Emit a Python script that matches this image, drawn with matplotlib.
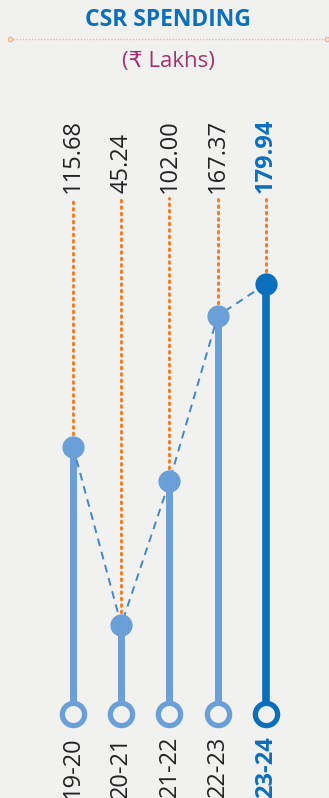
import matplotlib
matplotlib.use("Agg")
import matplotlib.pyplot as plt
from matplotlib.transforms import blended_transform_factory

years = ["19-20", "20-21", "21-22", "22-23", "23-24"]
values = [115.68, 45.24, 102.00, 167.37, 179.94]
value_labels = ["115.68", "45.24", "102.00", "167.37", "179.94"]
highlight = [False, False, False, False, True]

title = "CSR SPENDING"
subtitle = "(₹ Lakhs)"

BG = "#f1f1f0"
LIGHT = "#6a9fd8"
DARK = "#0b6fbe"
ORANGE = "#f07f2a"
PURPLE = "#a3336e"
TXT = "#222222"
FONT = ["Open Sans", "DejaVu Sans"]

W, H = 329, 798
fig = plt.figure(figsize=(W / 100, H / 100), dpi=100, facecolor=BG)
ax = fig.add_axes([0, 0, 1, 1])
ax.set_facecolor(BG)
ax.axis("off")

n = len(years)
x = list(range(n))
ax.set_xlim(-1.513, 5.306)
ax.set_ylim(-23.1, 292.1)

tr = blended_transform_factory(ax.transData, ax.transAxes)

base_frac = 1 - 714 / H
label_frac = 1 - 193 / H
dot_top_frac = 1 - 198 / H
year_frac = 1 - 736 / H

inv = ax.transData.inverted()
ybase = inv.transform(ax.transAxes.transform((0, base_frac)))[1]
ytop_dot = inv.transform(ax.transAxes.transform((0, dot_top_frac)))[1]

for i in range(n):
    c = DARK if highlight[i] else LIGHT
    ax.plot([x[i], x[i]], [ybase, values[i]], color=c, lw=5.0 if not highlight[i] else 5.5,
            solid_capstyle="butt", zorder=2)
    ax.plot([x[i], x[i]], [values[i], ytop_dot], color=ORANGE, lw=2.2,
            linestyle=(0, (0.5, 1.6)), dash_capstyle="round", zorder=1)
    ax.plot([x[i]], [ybase], marker="o", markersize=16, markerfacecolor=BG,
            markeredgecolor=c, markeredgewidth=3.8, zorder=4)
    ax.plot([x[i]], [values[i]], marker="o", markersize=16, color=c,
            markeredgewidth=0, zorder=4)
    ax.text(x[i], label_frac, value_labels[i], transform=tr, rotation=90,
            ha="center", va="bottom", fontsize=17, family=FONT,
            color=DARK if highlight[i] else TXT,
            fontweight="bold" if highlight[i] else "normal")
    ax.text(x[i], year_frac, years[i], transform=tr, rotation=90,
            ha="center", va="top", fontsize=17, family=FONT,
            color=DARK if highlight[i] else TXT,
            fontweight="bold" if highlight[i] else "normal")

ax.plot(x, values, color="#3f88cc", lw=1.4, linestyle=(0, (4, 3)), zorder=3)

fig.text(168 / W, 1 - 20 / H, title, ha="center", va="center", fontsize=16.5,
         fontweight="bold", color=DARK, family=FONT)
fig.text(168 / W, 1 - 61 / H, subtitle, ha="center", va="center", fontsize=16,
         color=PURPLE, family=FONT)
fig.add_artist(plt.Line2D([10 / W, 327 / W], [1 - 39 / H, 1 - 39 / H],
                          transform=fig.transFigure, color="#f2b48a", lw=1.0,
                          linestyle=(0, (1, 1.2)), marker="o", markersize=3,
                          markevery=[0, -1], markerfacecolor=BG,
                          markeredgecolor="#f2b48a"))

fig.savefig("out.png", dpi=100, facecolor=BG)
